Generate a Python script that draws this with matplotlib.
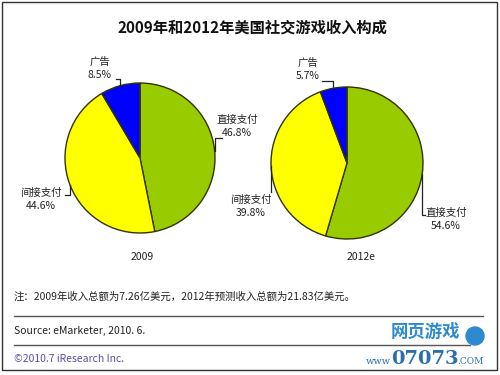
import numpy as np
import matplotlib
matplotlib.use('Agg')
import matplotlib.pyplot as plt
from matplotlib.patches import Rectangle, Circle

plt.rcParams['font.family'] = ['Noto Sans CJK SC', 'DejaVu Sans']

# data
categories = ['直接支付', '间接支付', '广告']
share_2009 = [46.8, 44.6, 8.5]
share_2012 = [54.6, 39.8, 5.7]
pie_titles = ['2009', '2012e']
colors = ['#99cc00', '#ffff00', '#0000ff']

title = '2009年和2012年美国社交游戏收入构成'
note = '注：2009年收入总额为7.26亿美元，2012年预测收入总额为21.83亿美元。'
source = 'Source: eMarketer, 2010. 6.'
copyright_txt = '©2010.7 iResearch Inc.'

W, H = 500, 375

fig = plt.figure(figsize=(5, 3.75), dpi=100)
ax = fig.add_axes([0, 0, 1, 1])


def fy(y):
    # image pixel row -> axes y (y up)
    return H - y


# layout for each pie: center, radius, label anchors (image px), year label pos
pies = [
    dict(values=share_2009, center=(140, 158), r=75, year_pos=(142, 257),
         labels=[(237, 120, 222, 138), (41, 193, 65, 195), (100, 62, 116, 79)]),
    dict(values=share_2012, center=(347, 163), r=76, year_pos=(361, 257),
         labels=[(446, 213, 425, 215), (251, 200, 271, 192), (308, 63, 322, 81)]),
]

for p, year in zip(pies, pie_titles):
    cx, cy = p['center']
    ax.pie(p['values'], colors=colors, startangle=90, counterclock=False,
           center=(cx, fy(cy)), radius=p['r'],
           wedgeprops=dict(edgecolor='#333300', linewidth=1.0))
    total = sum(p['values'])
    start = 90.0
    for val, name, (tx, ty, lx, ly) in zip(p['values'], categories, p['labels']):
        span = 360.0 * val / total
        mid = np.radians(start - span / 2)
        start -= span
        ex = cx + p['r'] * np.cos(mid)
        ey = cy - p['r'] * np.sin(mid)
        # leader line: from wedge edge, vertical to label row, then horizontal
        ax.plot([ex, ex, lx], [fy(ey), fy(ly), fy(ly)], color='#222222', lw=0.9)
        ax.text(tx, fy(ty), name, ha='center', va='center', fontsize=7.5, color='#222222')
        ax.text(tx, fy(ty + 13), f'{val}%', ha='center', va='center', fontsize=7.5, color='#222222')
    ax.text(p['year_pos'][0], fy(p['year_pos'][1]), year, ha='center', va='center',
            fontsize=7.5, color='#222222')

# title
ax.text(252, fy(28), title, ha='center', va='center', fontsize=11, fontweight='bold', color='#111111')

# footer
ax.text(14, fy(297), note, ha='left', va='center', fontsize=7.5, color='#222222')
ax.plot([14, 483], [fy(316), fy(316)], color='#555555', lw=1)
ax.text(14, fy(331), source, ha='left', va='center', fontsize=7.5, color='#222222')
ax.plot([14, 470], [fy(345), fy(345)], color='#555555', lw=1)
ax.text(14, fy(359), copyright_txt, ha='left', va='center', fontsize=7.5, color='#5b4fa8')

# watermark
ax.text(425, fy(332), '网页游戏', ha='center', va='center', fontsize=12.5, fontweight='bold', color='#2b8ad0')
ax.add_patch(Circle((475, fy(336)), 9, color='#2b8ad0'))
ax.text(378, fy(361), 'www', ha='center', va='center', fontsize=7, family='DejaVu Serif', color='#2b6fb0')
ax.text(425, fy(359), '07073', ha='center', va='center', fontsize=14, fontweight='bold',
        family='DejaVu Serif', color='#2b6fb0')
ax.text(470, fy(361), '.COM', ha='center', va='center', fontsize=6.5, family='DejaVu Serif', color='#2b6fb0')

# outer border
ax.add_patch(Rectangle((2, fy(370)), 495, 368, fill=False, edgecolor='#333333', lw=1))

ax.set_xlim(0, W)
ax.set_ylim(0, H)
ax.set_aspect('auto')
ax.axis('off')

fig.savefig('out.png', dpi=100, facecolor='white')
